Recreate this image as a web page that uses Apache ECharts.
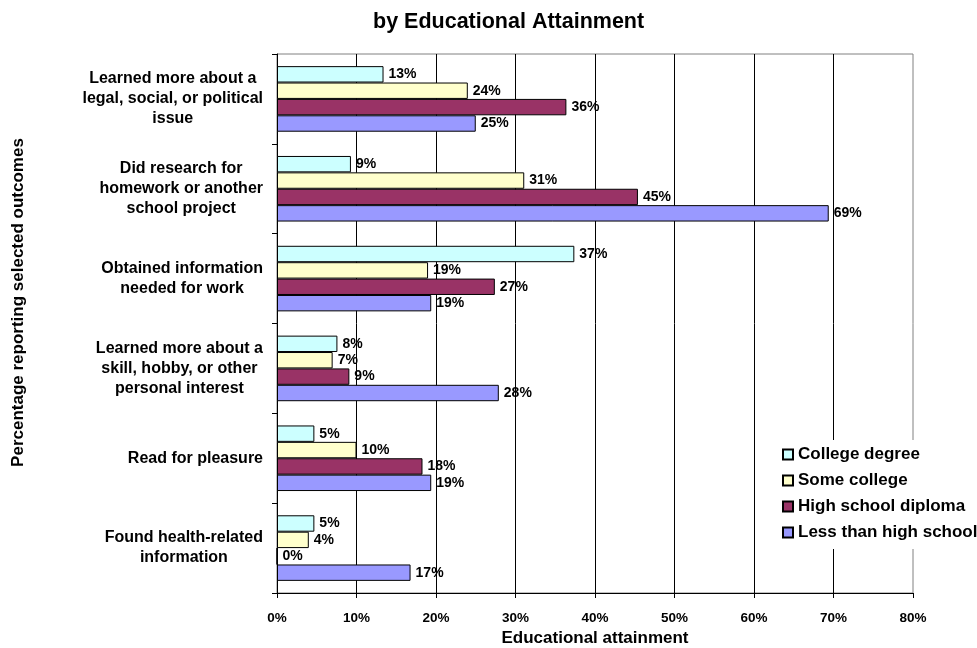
<!DOCTYPE html>
<html>
<head>
<meta charset="utf-8">
<script src="https://cdn.jsdelivr.net/npm/echarts@6/dist/echarts.min.js"></script>
<style>
  html, body { margin: 0; padding: 0; background: #fff; }
  #chart { width: 977px; height: 648px; }
</style>
</head>
<body>
<div id="chart"></div>
<script>
// Outcomes reported, grouped by educational attainment (percent)
const categories = [
  'Learned more about a\nlegal, social, or political\nissue',
  'Did research for\nhomework or another\nschool project',
  'Obtained information\nneeded for work',
  'Learned more about a\nskill, hobby, or other\npersonal interest',
  'Read for pleasure',
  'Found health-related\ninformation'
];
const seriesNames = ['College degree', 'Some college', 'High school diploma', 'Less than high school'];
const collegeDegree      = [13.4, 9.3, 37.4, 7.6, 4.7, 4.7];
const someCollege        = [24.0, 31.1, 19.0, 7.0, 10.0, 4.0];
const highSchoolDiploma  = [36.4, 45.4, 27.4, 9.1, 18.3, 0];
const lessThanHighSchool = [25.0, 69.4, 19.4, 27.9, 19.4, 16.8];
const xTicks = [0, 10, 20, 30, 40, 50, 60, 70, 80];

const colors = ['#CCFFFF', '#FFFFCC', '#993366', '#9999FF'];
const values = [collegeDegree, someCollege, highSchoolDiploma, lessThanHighSchool];
const FONT = '"Liberation Sans", Arial, sans-serif';

const chart = echarts.init(document.getElementById('chart'), null, { renderer: 'canvas' });

const series = seriesNames.map((name, i) => ({
  name: name,
  type: 'bar',
  data: values[i],
  barGap: '0%',
  barCategoryGap: '27%',
  itemStyle: { color: colors[i], borderColor: '#000', borderWidth: 1 },
  label: {
    show: true,
    position: 'right',
    distance: 5,
    formatter: p => Math.round(p.value) + '%',
    fontFamily: FONT,
    fontWeight: 'bold',
    fontSize: 14,
    color: '#000'
  },
  emphasis: { disabled: true },
  animation: false
}));

chart.setOption({
  backgroundColor: '#fff',
  animation: false,
  title: {
    text: 'by Educational Attainment',
    left: 368,
    top: 6,
    textStyle: { fontFamily: FONT, fontWeight: 'bold', fontSize: 21.5, color: '#000' }
  },
  legend: {
    orient: 'vertical',
    left: 770,
    top: 440,
    padding: [6, 6, 8, 12],
    backgroundColor: '#fff',
    itemWidth: 10,
    itemHeight: 10,
    itemGap: 9,
    icon: 'rect',
    data: seriesNames,
    textStyle: { fontFamily: FONT, fontWeight: 'bold', fontSize: 17, color: '#000', lineHeight: 17 }
  },
  grid: {
    left: 277,
    right: 64,
    top: 54,
    bottom: 55,
    outerBoundsMode: 'none',
    containLabel: false,
    show: true,
    borderColor: '#808080',
    borderWidth: 1,
    backgroundColor: 'transparent'
  },
  xAxis: {
    type: 'value',
    min: 0,
    max: 80,
    interval: 10,
    name: 'Educational attainment',
    nameLocation: 'middle',
    nameGap: 34,
    nameTextStyle: { fontFamily: FONT, fontWeight: 'bold', fontSize: 17, color: '#000' },
    axisLine: { show: true, lineStyle: { color: '#000', width: 1 } },
    axisTick: { show: true, length: 5, lineStyle: { color: '#000' } },
    axisLabel: {
      margin: 18,
      formatter: v => (xTicks.indexOf(v) >= 0 ? v + '%' : ''),
      fontFamily: FONT, fontWeight: 'bold', fontSize: 13.5, color: '#000'
    },
    splitLine: { show: true, showMaxLine: false, lineStyle: { color: '#000', width: 1 } }
  },
  yAxis: {
    type: 'category',
    inverse: true,
    data: categories,
    name: 'Percentage reporting selected outcomes',
    nameLocation: 'middle',
    nameGap: 250,
    nameRotate: 90,
    nameTextStyle: {
      fontFamily: FONT, fontWeight: 'bold', fontSize: 17, color: '#000',
      padding: [0, 0, 0, 42]
    },
    axisLine: { show: true, lineStyle: { color: '#000', width: 1 } },
    axisTick: { show: true, length: 5, lineStyle: { color: '#000' } },
    axisLabel: {
      margin: 14,
      align: 'right',
      formatter: v => v.split('\n').map(line => '{c|' + line + '}').join('\n'),
      rich: {
        c: { align: 'center', fontFamily: FONT, fontWeight: 'bold', fontSize: 16, lineHeight: 20, color: '#000' }
      }
    },
    splitLine: { show: false }
  },
  series: series
});
</script>
</body>
</html>
